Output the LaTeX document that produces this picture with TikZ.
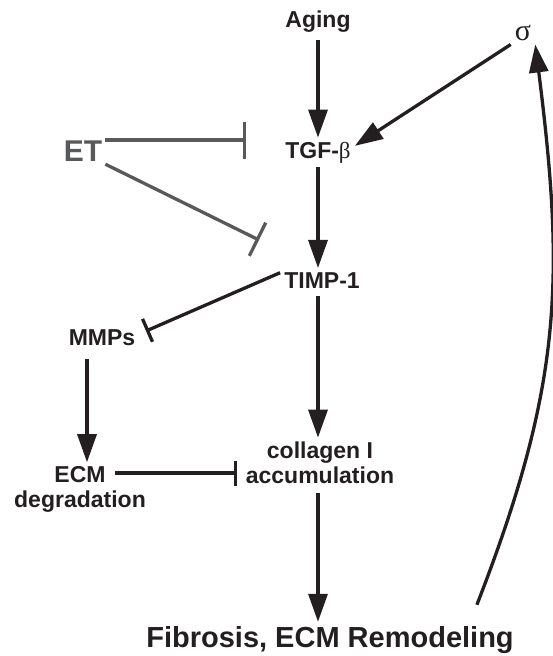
\documentclass[tikz,border=0pt]{standalone}
\usepackage{fontspec}
\setmainfont{Liberation Sans}
\newfontfamily\greekfont{Liberation Serif}
\usepackage{tikz}
\usetikzlibrary{arrows.meta,positioning}
\definecolor{inkblack}{RGB}{35,31,32}
\definecolor{etgray}{RGB}{88,89,91}

\begin{document}
\begin{tikzpicture}
      [x=1pt, y=-1pt,
      node style1/.style={inner sep=4pt, font=\fontsize{23}{24.5}\selectfont\bfseries, text=inkblack, align=center},
      node style2/.style={inner sep=3pt, font=\fontsize{30}{32}\selectfont\bfseries, text=etgray},
      node style3/.style={inner sep=4pt, font=\fontsize{29}{31}\selectfont\bfseries, text=inkblack},
      edge style1/.style={draw=inkblack, line width=3.3pt, -{Triangle[length=28pt, width=19pt]}},
      edge style2/.style={draw=inkblack, line width=3.3pt, -{Bar[width=25pt]}},
      edge style3/.style={draw=etgray, line width=3.3pt, -{Bar[width=37pt]}},
      ]
      \useasboundingbox (0,0) rectangle (553,656);

      % nodes
      \node[node style1, anchor=base] (aging) at (318,27) {Aging};
      \node[inner sep=4pt, anchor=base, font=\fontsize{30}{32}\selectfont\greekfont, text=inkblack] (sigma) at (523,40) {σ};
      \node[node style2, anchor=base] (et) at (83,161) {ET};
      \node[node style1, anchor=base] (tgf) at (318,158) {TGF-{\greekfont\mdseries β}};
      \node[node style1, anchor=base] (timp) at (322,288) {TIMP-1};
      \node[node style1, anchor=base] (mmps) at (102,345) {MMPs};
      \node[node style1, anchor=base] (ecm) at (80,507) {ECM\\degradation};
      \node[node style1, anchor=base] (coll) at (320,483) {collagen I\\accumulation};
      \node[node style3, anchor=base] (fib) at (330,647) {Fibrosis, ECM Remodeling};

      \coordinate (et bar1) at (246,140);
      \coordinate (et bar2) at (259,240);
      \coordinate (mmp bar) at (146,331);
      \coordinate (ecm bar) at (237,473);

      % activation
      \draw[edge style1, shorten <=4pt] (aging) -- (tgf);
      \draw[edge style1] (sigma.south west) -- (tgf.10);
      \draw[edge style1] (tgf.south) -- (tgf.south |- timp.north);
      \draw[edge style1, shorten <=4pt] (tgf.south |- timp.south) -- (tgf.south |- coll.north);
      \draw[edge style1, shorten <=6pt] (tgf.south |- coll.south) -- (tgf.south |- fib.north);
      \draw[edge style1, shorten <=10pt] ([xshift=7pt]ecm.north |- mmps.south) -- ([xshift=7pt]ecm.north);
      \draw[edge style1] ([shift={(-41pt,17pt)}]fib.north east) .. controls (562,386) and (565,280) .. (sigma.south east);

      % inhibition
      \draw[edge style3] (et.east |- et bar1) -- (et bar1);
      \draw[edge style3] (et.south east) -- (et bar2);
      \draw[edge style2] (timp.170) -- (mmp bar);
      \draw[edge style2, shorten <=35pt] (ecm.north |- ecm bar) -- (ecm bar);
\end{tikzpicture}
\end{document}
